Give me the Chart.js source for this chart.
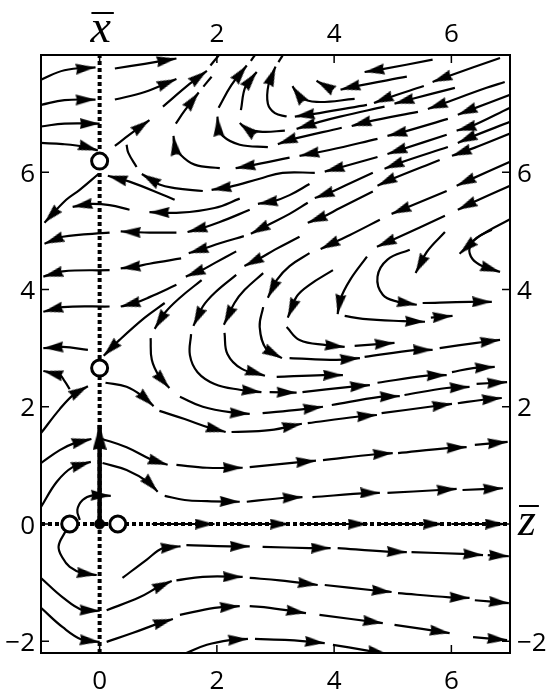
<!DOCTYPE html>
<html>
<head>
<meta charset="utf-8">
<script src="https://cdn.jsdelivr.net/npm/chart.js@4/dist/chart.umd.min.js"></script>
<style>
  html, body { margin: 0; background: #fff; }
  canvas { display: block; }
</style>
</head>
<body>
<canvas id="chart" width="550" height="698"></canvas>
<script>
// tick values of the frame
const xTicks = [0, 2, 4, 6];
const yTicks = [-2, 0, 2, 4, 6];

// equilibria (open circles) and the origin
const fixedPoints = [[0, 6.19], [0, 2.66], [-0.51, 0], [0.31, 0]];
const originPoint = [[0, 0]];
const forceVector = [[0, 0], [0, 1.69]];

// dotted coordinate axes
const xBarAxis = [[0, -2.2], [0, 8]];
const zBarAxis = [[-1, 0], [7, 0]];

// streamline dashes, each listed in flow order, arrowhead on the last point
const topLeftDashes = [
  [[-1, 7.58], [-0.6, 7.74], [-0.07, 7.79]],
  [[0.26, 7.77], [0.77, 7.85], [1.31, 7.94]],
  [[-1, 7.15], [-0.6, 7.23], [-0.07, 7.24]],
  [[0.26, 7.24], [0.77, 7.37], [1.31, 7.59]],
  [[-1, 6.78], [-0.6, 6.83], [0, 6.83]],
  [[-1, 6.5], [-0.63, 6.48], [-0.23, 6.43], [-0.03, 6.37]],
  [[0.26, 6.45], [0.51, 6.64], [0.85, 6.89]],
  [[1.08, 7.12], [1.54, 7.51], [1.83, 7.73]],
  [[-0.02, 5.97], [-0.34, 5.7], [-0.57, 5.53], [-0.94, 5.14]],
  [[1.28, 5.53], [1.14, 5.59], [0.51, 5.84], [0.14, 5.94]]
];

const upperLoopDashes = [
  [[7, 7.1], [6.31, 6.77], [6.09, 6.71]],
  [[5.92, 6.64], [5.12, 6.38], [4.91, 6.31]],
  [[4.74, 6.26], [4.1, 6.08], [3.84, 6.01]],
  [[3.67, 5.99], [3.12, 5.99], [2.73, 5.89], [2.22, 5.75], [1.91, 5.7]],
  [[1.76, 5.68], [1.28, 5.73], [1.02, 5.79], [0.72, 5.97]],
  [[7, 7.32], [6.31, 7.06], [6.11, 6.98]],
  [[5.94, 6.91], [5.12, 6.67], [4.91, 6.62]],
  [[4.74, 6.57], [3.92, 6.38], [3.41, 6.28]],
  [[3.24, 6.25], [2.56, 6.11], [2.32, 6.07]],
  [[2.05, 6.07], [1.62, 6.13], [1.37, 6.31], [1.28, 6.47], [1.26, 6.62]],
  [[1.3, 6.83], [1.45, 7.05], [1.69, 7.36]],
  [[6.91, 7.54], [6.6, 7.44], [5.8, 7.15], [5.6, 7.08]],
  [[5.43, 7.03], [4.56, 6.86], [4.3, 6.79]],
  [[4.13, 6.76], [3.24, 6.55], [3.04, 6.48]],
  [[2.87, 6.43], [2.39, 6.47], [2.1, 6.62], [2.02, 6.81], [2.01, 6.95]],
  [[2.03, 7.1], [2.25, 7.49], [2.51, 7.82]],
  [[6.06, 7.44], [5.29, 7.24], [5.03, 7.17]],
  [[4.86, 7.12], [4.1, 6.95], [3.75, 6.86], [3.36, 6.74]],
  [[3.16, 6.71], [2.78, 6.69], [2.51, 6.74], [2.39, 6.84]],
  [[2.41, 7.06], [2.49, 7.47], [2.68, 7.71]],
  [[6.83, 7.95], [5.92, 7.63], [5.68, 7.54]],
  [[5.53, 7.47], [4.86, 7.25], [4.68, 7.18]],
  [[4.56, 7.15], [3.75, 7.01], [3.33, 6.95]],
  [[3.19, 6.95], [2.99, 7.01], [2.87, 7.17], [2.88, 7.49], [3.0, 7.8]],
  [[4.35, 7.25], [3.7, 7.2], [3.41, 7.29], [3.29, 7.47]],
  [[5.68, 7.92], [4.78, 7.75], [4.52, 7.71]],
  [[5.24, 7.63], [4.32, 7.46], [4.11, 7.41]],
  [[3.98, 7.42], [3.82, 7.49], [3.7, 7.56]]
];

const diagonalDashes = [
  [[7, 6.86], [6.31, 6.59], [6.11, 6.5]],
  [[5.94, 6.43], [5.12, 6.16], [4.86, 6.06]],
  [[4.66, 5.99], [4.18, 5.77], [3.92, 5.65], [3.67, 5.56]],
  [[3.55, 5.48], [3.24, 5.29], [2.85, 5.09], [2.58, 4.95]],
  [[2.46, 4.91], [2.05, 4.79], [1.76, 4.69], [1.52, 4.62]],
  [[1.39, 4.53], [0.85, 4.44], [0.6, 4.39], [0.36, 4.36]],
  [[0.17, 4.33], [-0.63, 4.31], [-0.96, 4.22]],
  [[3.58, 5.8], [3.24, 5.61], [2.95, 5.5], [2.7, 5.46]],
  [[2.56, 5.36], [2.05, 5.15], [1.76, 5.05], [1.5, 4.98]],
  [[1.31, 4.97], [0.85, 4.97], [0.57, 4.98], [0.36, 4.99]],
  [[0.17, 4.97], [-0.63, 4.9], [-0.94, 4.78]],
  [[2.39, 5.55], [1.96, 5.39], [1.37, 5.31], [0.85, 5.32]],
  [[0.51, 5.36], [0.17, 5.44], [-0.17, 5.46], [-0.46, 5.41]],
  [[7, 6.66], [6.4, 6.42], [6.01, 6.28]],
  [[5.8, 6.21], [4.95, 5.87], [4.74, 5.77]],
  [[4.66, 5.67], [4.1, 5.39], [3.81, 5.24], [3.55, 5.14]],
  [[3.41, 4.9], [2.99, 4.68], [2.73, 4.53], [2.47, 4.4]],
  [[2.33, 4.25], [1.96, 3.94], [1.76, 3.71], [1.6, 3.38]],
  [[2.33, 4.65], [1.96, 4.45], [1.74, 4.33], [1.47, 4.22]],
  [[1.31, 4.08], [0.85, 3.87], [0.6, 3.77], [0.36, 3.71]],
  [[0.17, 3.71], [-0.63, 3.7], [-0.96, 3.62]],
  [[-0.2, 2.97], [-0.63, 3.02], [-0.96, 3.0]],
  [[1.11, 3.77], [0.77, 3.52], [0.34, 3.14], [0.07, 2.87]]
];

const lowerLoopDashes = [
  [[7, 6.18], [6.31, 5.87], [6.09, 5.77]],
  [[5.92, 5.68], [5.2, 5.38], [4.98, 5.29]],
  [[4.78, 5.19], [4.27, 4.93], [4.04, 4.82], [3.77, 4.69]],
  [[3.58, 4.62], [3.24, 4.4], [3.02, 4.16], [2.87, 3.86]],
  [[2.79, 3.7], [2.73, 3.36], [2.85, 2.97], [3.11, 2.83]],
  [[3.24, 2.83], [4.04, 2.8], [4.44, 2.83]],
  [[4.52, 2.85], [5.41, 2.97], [5.68, 2.97]],
  [[5.8, 3.0], [6.43, 3.09], [6.83, 3.14]],
  [[7, 5.77], [6.4, 5.5], [6.11, 5.36]],
  [[5.89, 5.26], [5.03, 4.86], [4.73, 4.73]],
  [[4.56, 4.56], [4.27, 4.16], [4.1, 3.82], [4.06, 3.58]],
  [[4.18, 3.55], [4.49, 3.5], [5.17, 3.46], [5.55, 3.45]],
  [[5.65, 3.52], [6.02, 3.55]],
  [[3.98, 4.33], [3.58, 4.08], [3.36, 3.88], [3.21, 3.52]],
  [[3.19, 3.36], [3.41, 3.14], [3.87, 3.05], [4.18, 3.02]],
  [[4.35, 3.04], [5.03, 3.09]],
  [[5.29, 4.68], [4.91, 4.51], [4.74, 4.22], [4.83, 3.91], [5.09, 3.79], [5.41, 3.74]],
  [[5.51, 3.77], [6.31, 3.79], [6.69, 3.79]],
  [[5.89, 4.98], [5.58, 4.64], [5.39, 4.28]],
  [[7, 5.2], [6.48, 4.91], [6.14, 4.61]],
  [[6.69, 5.02], [6.43, 4.88], [6.31, 4.71], [6.36, 4.52], [6.55, 4.39], [6.83, 4.3]],
  [[1.74, 4.16], [1.37, 3.86], [1.11, 3.6], [0.94, 3.33]],
  [[0.87, 3.17], [0.89, 2.8], [1.02, 2.51], [1.19, 2.32]],
  [[1.37, 2.17], [1.76, 2.0], [2.34, 1.89], [2.56, 1.88]],
  [[2.78, 1.89], [3.41, 1.95], [3.81, 2.0]],
  [[3.96, 2.03], [4.78, 2.17], [5.12, 2.18]],
  [[5.2, 2.2], [5.92, 2.32], [6.31, 2.34]],
  [[6.43, 2.39], [6.95, 2.42]],
  [[1.56, 3.24], [1.54, 2.88], [1.67, 2.59], [1.96, 2.39], [2.39, 2.29], [2.76, 2.25]],
  [[2.9, 2.25], [3.36, 2.24]],
  [[3.46, 2.25], [4.27, 2.34], [4.61, 2.37]],
  [[4.74, 2.41], [5.58, 2.53], [5.92, 2.54]],
  [[6.01, 2.59], [6.37, 2.66], [6.74, 2.68]],
  [[2.79, 4.28], [2.47, 3.99], [2.3, 3.77], [2.12, 3.4]],
  [[2.13, 3.26], [2.18, 2.9], [2.42, 2.65], [2.82, 2.53]],
  [[3.02, 2.51], [3.81, 2.54], [4.15, 2.54]]
];

const bottomDashes = [
  [[0.1, 2.41], [0.46, 2.34], [0.77, 2.15], [0.92, 2.01]],
  [[1.02, 1.93], [1.45, 1.79], [1.88, 1.64], [2.15, 1.57]],
  [[2.25, 1.57], [2.9, 1.6], [3.45, 1.71]],
  [[3.55, 1.72], [4.39, 1.83], [4.73, 1.86]],
  [[4.81, 1.89], [5.63, 2.0], [6.01, 2.05]],
  [[6.11, 2.06], [6.54, 2.12], [6.86, 2.15]],
  [[-1, 1.55], [-0.68, 1.96], [-0.43, 2.22], [-0.2, 2.35]],
  [[-0.51, 2.3], [-0.6, 2.44], [-0.68, 2.54], [-0.96, 2.61]],
  [[-1, 1.04], [-0.68, 1.26], [-0.43, 1.38], [-0.14, 1.45]],
  [[0.02, 1.46], [0.46, 1.31], [0.9, 1.09], [1.16, 1.01]],
  [[1.31, 1.01], [1.83, 0.96], [2.44, 0.96]],
  [[2.56, 0.97], [3.24, 1.04], [3.69, 1.08]],
  [[3.81, 1.09], [4.71, 1.19], [5.0, 1.21]],
  [[5.09, 1.21], [5.97, 1.3], [6.26, 1.31]],
  [[6.4, 1.35], [6.96, 1.4]],
  [[-1, 0.29], [-0.73, 0.72], [-0.46, 0.97], [-0.15, 1.06]],
  [[0.05, 1.04], [0.46, 0.92], [0.85, 0.7], [0.99, 0.55]],
  [[1.11, 0.48], [1.45, 0.41], [1.83, 0.39], [2.39, 0.38]],
  [[2.51, 0.38], [3.07, 0.44], [3.46, 0.46]],
  [[3.63, 0.46], [4.61, 0.53], [4.78, 0.53]],
  [[4.91, 0.53], [5.8, 0.58], [6.09, 0.6]],
  [[6.19, 0.58], [6.88, 0.61]],
  [[-0.34, 0.07], [-0.38, 0.24], [-0.29, 0.41], [-0.12, 0.49], [0.19, 0.48]],
  [[0.89, 0], [1.96, 0]],
  [[2.13, 0], [3.24, 0]],
  [[3.41, 0], [4.57, 0]],
  [[4.74, 0], [5.85, 0]],
  [[6.0, 0], [6.91, 0]],
  [[-0.58, -0.12], [-0.7, -0.38], [-0.63, -0.58], [-0.51, -0.73], [-0.29, -0.84], [-0.05, -0.87]],
  [[0.39, -0.92], [0.8, -0.61], [1.08, -0.41], [1.38, -0.38]],
  [[1.48, -0.36], [2.22, -0.38], [2.56, -0.38]],
  [[2.78, -0.39], [3.58, -0.41], [3.94, -0.41]],
  [[4.06, -0.41], [4.9, -0.47], [5.24, -0.48]],
  [[5.32, -0.48], [6.19, -0.51], [6.54, -0.53]],
  [[6.62, -0.53], [6.98, -0.55]],
  [[-1, -0.92], [-0.63, -1.25], [-0.29, -1.47], [0, -1.48]],
  [[0.12, -1.47], [0.68, -1.25], [0.99, -1.08], [1.23, -0.97]],
  [[1.31, -0.96], [1.76, -0.9], [2.44, -0.9]],
  [[2.56, -0.92], [3.07, -0.96], [3.72, -1.04]],
  [[3.84, -1.04], [4.66, -1.13], [4.98, -1.16]],
  [[5.09, -1.18], [5.97, -1.25], [6.31, -1.26]],
  [[6.4, -1.3], [6.98, -1.35]],
  [[-1, -1.43], [-0.63, -1.76], [-0.29, -1.98], [0, -2.01]],
  [[0.12, -2.01], [0.56, -1.86], [1.02, -1.69], [1.25, -1.62]],
  [[1.37, -1.55], [1.96, -1.43], [2.39, -1.4]],
  [[2.56, -1.4], [2.9, -1.43], [3.52, -1.52]],
  [[3.75, -1.55], [4.83, -1.69]],
  [[5.03, -1.72], [5.97, -1.86]],
  [[6.37, -1.93], [6.95, -1.98]],
  [[1.48, -2.2], [1.83, -2.06], [2.22, -1.98], [2.53, -1.96]],
  [[2.65, -1.96], [3.24, -1.98], [3.84, -2.03]],
  [[3.98, -2.06], [4.52, -2.15], [4.91, -2.22]]
];

// dashes without an arrowhead
const plainDashes = [
  [[1.89, 7.82], [2.03, 7.99]],
  [[0.63, 6.09], [0.49, 6.33], [0.46, 6.47]],
  [[1.77, 7.46], [1.91, 7.63]],
  [[2.58, 7.9], [2.65, 8.0]],
  [[3.05, 7.88], [3.12, 7.99]]
];

function arrowHead(length, width) {
  // tip sits at the canvas centre so the point marks the tip
  const c = document.createElement("canvas");
  c.width = length * 2;
  c.height = width;
  const g = c.getContext("2d");
  g.fillStyle = "#000";
  g.beginPath();
  g.moveTo(length, width / 2);
  g.lineTo(0, 0);
  g.lineTo(1.5, width / 2);
  g.lineTo(0, width);
  g.closePath();
  g.fill();
  return c;
}

const ARROW = arrowHead(20, 11);
const BIG_ARROW = arrowHead(25, 14);

function toPoints(dash) {
  return dash.map(([x, y]) => ({ x, y }));
}

function tipOf(dash) {
  const [x, y] = dash[dash.length - 1];
  const [fx, fy] = dash[dash.length - 2];
  return { x, y, fx, fy };
}

function heading(context) {
  const p = context.raw;
  if (!p) return 0;
  const sx = context.chart.scales.x;
  const sy = context.chart.scales.y;
  const dx = sx.getPixelForValue(p.x) - sx.getPixelForValue(p.fx);
  const dy = sy.getPixelForValue(p.y) - sy.getPixelForValue(p.fy);
  return Math.atan2(dy, dx) * 180 / Math.PI;
}

function fmt(v) {
  return v < 0 ? "\u2212" + Math.abs(v) : String(v);
}

function barredName(ctx, letter, x, baseline, align) {
  ctx.save();
  ctx.font = 'italic 46px "Liberation Serif"';
  ctx.textAlign = align;
  ctx.fillText(letter, x, baseline);
  const w = ctx.measureText(letter).width;
  const left = align === "center" ? x - w / 2 : x;
  ctx.lineWidth = 2;
  ctx.beginPath();
  ctx.moveTo(left + 1, baseline - 29);
  ctx.lineTo(left + w + 3, baseline - 29);
  ctx.stroke();
  ctx.restore();
}

const framePlugin = {
  id: "frame",
  afterDraw(chart) {
    const { ctx, chartArea: a } = chart;
    const sx = chart.scales.x;
    const sy = chart.scales.y;
    ctx.save();
    ctx.strokeStyle = "#000";
    ctx.fillStyle = "#000";

    ctx.lineWidth = 1.5;
    ctx.beginPath();
    xTicks.forEach(v => {
      const px = sx.getPixelForValue(v);
      ctx.moveTo(px, a.bottom); ctx.lineTo(px, a.bottom - 8);
      ctx.moveTo(px, a.top); ctx.lineTo(px, a.top + 8);
    });
    yTicks.forEach(v => {
      const py = sy.getPixelForValue(v);
      ctx.moveTo(a.left, py); ctx.lineTo(a.left + 8, py);
      ctx.moveTo(a.right, py); ctx.lineTo(a.right - 8, py);
    });
    ctx.stroke();

    ctx.lineWidth = 2;
    ctx.strokeRect(a.left, a.top, a.right - a.left, a.bottom - a.top);

    ctx.font = '26px "Open Sans"';
    ctx.textBaseline = "alphabetic";
    ctx.textAlign = "center";
    xTicks.forEach(v => {
      const px = sx.getPixelForValue(v);
      ctx.fillText(fmt(v), px, a.bottom + 36);
      if (v !== 0) ctx.fillText(fmt(v), px, a.top - 13);
    });
    ctx.textAlign = "right";
    yTicks.forEach(v => ctx.fillText(fmt(v), a.left - 6, sy.getPixelForValue(v) + 9.5));
    ctx.textAlign = "left";
    yTicks.forEach(v => {
      if (v !== 0) ctx.fillText(fmt(v), a.right + 7, sy.getPixelForValue(v) + 9.5);
    });

    barredName(ctx, "x", sx.getPixelForValue(0) + 1, a.top - 13, "center");
    barredName(ctx, "z", a.right + 8, sy.getPixelForValue(0) + 11, "left");
    ctx.restore();
  }
};

const arrowDashes = [...topLeftDashes, ...upperLoopDashes, ...diagonalDashes, ...lowerLoopDashes, ...bottomDashes];

const streamSets = [...arrowDashes, ...plainDashes].map(dash => ({
  type: "line",
  data: toPoints(dash),
  borderColor: "#000",
  borderWidth: 2.2,
  borderCapStyle: "butt",
  tension: 0.4,
  pointRadius: 0,
  fill: false,
  order: 3
}));

const datasets = [
  {
    type: "scatter",
    data: toPoints(fixedPoints),
    pointStyle: "circle",
    pointRadius: 8,
    pointBackgroundColor: "#fff",
    pointBorderColor: "#000",
    pointBorderWidth: 3,
    order: 0
  },
  {
    type: "scatter",
    data: toPoints(originPoint),
    pointRadius: 5,
    pointBackgroundColor: "#000",
    pointBorderColor: "#000",
    order: 0
  },
  {
    type: "scatter",
    data: [tipOf(forceVector)],
    pointStyle: BIG_ARROW,
    pointRadius: 3,
    pointRotation: heading,
    order: 1
  },
  {
    type: "line",
    data: toPoints(forceVector),
    borderColor: "#000",
    borderWidth: 4.5,
    borderCapStyle: "butt",
    pointRadius: 0,
    order: 1
  },
  {
    type: "scatter",
    data: arrowDashes.map(tipOf),
    pointStyle: ARROW,
    pointRadius: 3,
    pointRotation: heading,
    order: 2
  },
  ...streamSets,
  {
    type: "line",
    data: toPoints(xBarAxis),
    borderColor: "#000",
    borderWidth: 4,
    borderDash: [4, 3],
    borderCapStyle: "butt",
    pointRadius: 0,
    order: 4
  },
  {
    type: "line",
    data: toPoints(zBarAxis),
    borderColor: "#000",
    borderWidth: 4,
    borderDash: [4, 3],
    borderCapStyle: "butt",
    pointRadius: 0,
    order: 4
  }
];

new Chart(document.getElementById("chart"), {
  type: "scatter",
  data: { datasets },
  options: {
    responsive: false,
    animation: false,
    events: [],
    devicePixelRatio: 1,
    layout: { padding: { left: 41, right: 40, top: 55, bottom: 45 } },
    plugins: { legend: { display: false }, tooltip: { enabled: false } },
    scales: {
      x: { type: "linear", min: -1, max: 7, display: false },
      y: { type: "linear", min: -2.2, max: 8, display: false }
    }
  },
  plugins: [framePlugin]
});
</script>
</body>
</html>
